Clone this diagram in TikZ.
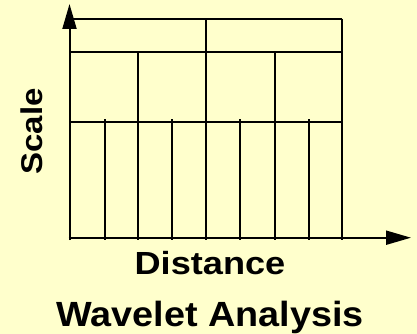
\documentclass[tikz,border=0pt]{standalone}
\usepackage{fontspec}
\setmainfont{Liberation Sans}
\usetikzlibrary{arrows.meta}
\definecolor{bgyellow}{HTML}{FFFFCC}
\tikzset{
  gridline/.style={line width=2pt, black},
  axisline/.style={line width=2pt, black, -{Triangle[length=25pt,width=14pt]}},
  lbl/.style={inner sep=0pt, anchor=base, font=\bfseries},
}
\begin{document}
\begin{tikzpicture}[x=1pt,y=-1pt]
\fill[bgyellow] (0,0) rectangle (417,334);
\useasboundingbox (0,0) rectangle (417,334);
% key coordinates
\coordinate (o) at (69.5,237.7);
\coordinate (ytip) at (69.5,4);
\coordinate (xtip) at (411,237.7);
% horizontal grid lines
\draw[gridline] (69.5,18.7) -- (342.3,18.7);
\draw[gridline] (69.5,52.3) -- (342.3,52.3);
\draw[gridline] (69.5,122) -- (342.3,122);
% vertical grid lines
\draw[gridline] (342.3,18.7) -- (342.3,240);
\draw[gridline] (206,18.7) -- (206,240);
\foreach \x in {138.2,274.5} \draw[gridline] (\x,52.3) -- (\x,240);
\foreach \x in {104.5,172,240,308.5} \draw[gridline] (\x,119.3) -- (\x,240);
% axes
\draw[axisline] (69.5,240) -- (ytip);
\draw[axisline] (68.7,237.7) -- (xtip);
% labels
\node[lbl, rotate=90, font=\bfseries\fontsize{30}{30}\selectfont] (scale) at (42.5,131.5) {\scalebox{1.1}[1]{Scale}};
\node[lbl, font=\bfseries\fontsize{32}{32}\selectfont] (dist) at (210,274.3) {\scalebox{1.13}[1]{Distance}};
\node[lbl, font=\bfseries\fontsize{35}{35}\selectfont] (title) at (210,326) {\scalebox{1.08}[1]{Wavelet Analysis}};
\end{tikzpicture}
\end{document}
